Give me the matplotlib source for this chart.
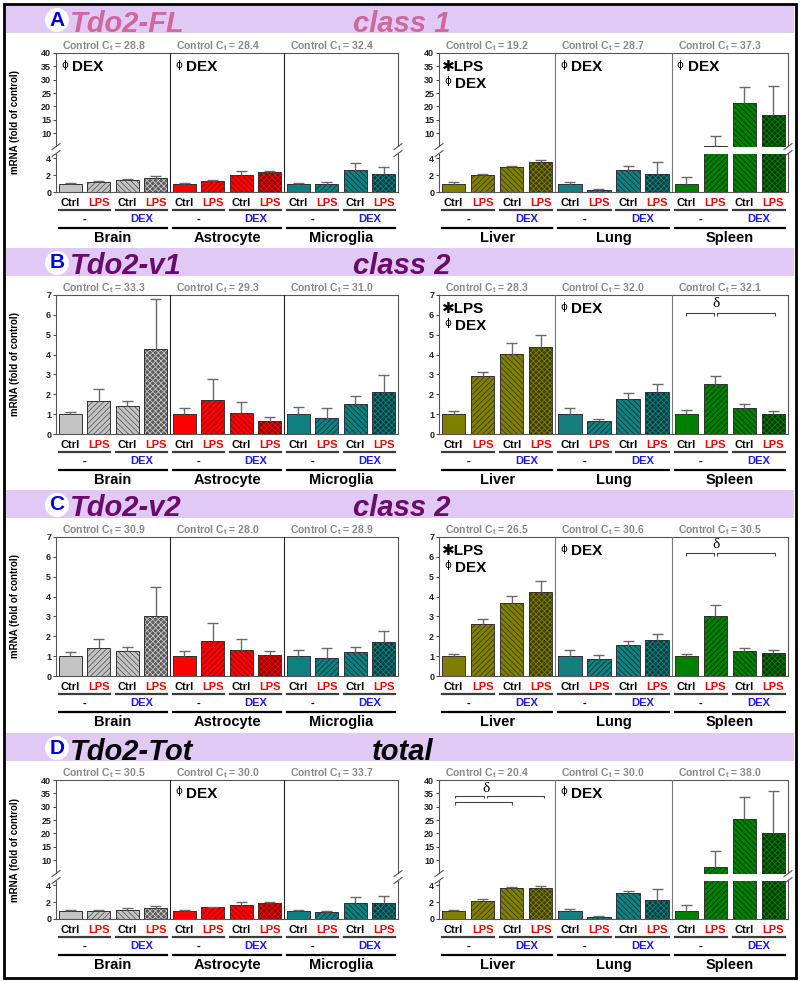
import numpy as np
import matplotlib
matplotlib.use("Agg")
import matplotlib.pyplot as plt
from matplotlib import transforms, font_manager
from matplotlib.lines import Line2D
from matplotlib.patches import Rectangle

W, H = 800, 981

# ---- values ----
treatments = ["Ctrl", "LPS", "Ctrl", "LPS"]
dex_labels = ["-", "DEX"]
left_organs = ["Brain", "Astrocyte", "Microglia"]
right_organs = ["Liver", "Lung", "Spleen"]

panel_letters = ["A", "B", "C", "D"]
panel_genes = ["Tdo2-FL", "Tdo2-v1", "Tdo2-v2", "Tdo2-Tot"]
panel_classes = ["class 1", "class 2", "class 2", "total"]

# Tdo2-FL (broken axis)
fl_left_mean = [1.0, 1.15, 1.4, 1.7, 1.0, 1.35, 2.05, 2.35, 1.0, 0.9, 2.6, 2.1]
fl_left_top = [1.1, 1.3, 1.55, 1.9, 1.1, 1.45, 2.5, 2.5, 1.05, 1.15, 3.4, 2.95]
fl_right_mean = [1.0, 2.0, 2.95, 3.5, 1.0, 0.25, 2.55, 2.15, 1.0, 5.3, 21.3, 16.7]
fl_right_top = [1.15, 2.1, 3.05, 3.85, 1.2, 0.3, 3.05, 3.55, 1.8, 8.9, 27.2, 27.8]
fl_ct_left = [28.8, 28.4, 32.4]
fl_ct_right = [19.2, 28.7, 37.3]

# Tdo2-v1
v1_left_mean = [1.0, 1.68, 1.39, 4.28, 1.0, 1.71, 1.06, 0.67, 1.0, 0.8, 1.51, 2.1]
v1_left_top = [1.12, 2.25, 1.68, 6.8, 1.33, 2.77, 1.61, 0.87, 1.34, 1.33, 1.91, 2.95]
v1_right_mean = [1.0, 2.92, 4.04, 4.36, 1.0, 0.64, 1.74, 2.11, 1.0, 2.5, 1.29, 1.02]
v1_right_top = [1.16, 3.14, 4.56, 4.97, 1.33, 0.74, 2.06, 2.52, 1.19, 2.92, 1.51, 1.16]
v1_ct_left = [33.3, 29.3, 31.0]
v1_ct_right = [28.3, 32.0, 32.1]

# Tdo2-v2
v2_left_mean = [1.0, 1.42, 1.26, 3.03, 1.0, 1.75, 1.3, 1.04, 1.0, 0.93, 1.23, 1.7]
v2_left_top = [1.2, 1.85, 1.44, 4.48, 1.26, 2.69, 1.85, 1.28, 1.31, 1.43, 1.46, 2.29]
v2_right_mean = [1.0, 2.63, 3.67, 4.23, 1.0, 0.84, 1.55, 1.8, 1.0, 3.03, 1.28, 1.16]
v2_right_top = [1.11, 2.86, 4.02, 4.76, 1.33, 1.06, 1.77, 2.1, 1.09, 3.6, 1.43, 1.31]
v2_ct_left = [30.9, 28.0, 28.9]
v2_ct_right = [26.5, 30.6, 30.5]

# Tdo2-Tot (broken axis)
tot_left_mean = [1.0, 1.0, 1.12, 1.36, 1.0, 1.4, 1.6, 1.9, 1.0, 0.82, 1.93, 1.93]
tot_left_top = [1.1, 1.08, 1.3, 1.55, 1.05, 1.48, 2.0, 2.05, 1.05, 0.96, 2.6, 2.72]
tot_right_mean = [1.0, 2.15, 3.64, 3.7, 1.0, 0.25, 3.08, 2.3, 1.0, 7.4, 25.6, 20.1]
tot_right_top = [1.05, 2.35, 3.8, 3.95, 1.15, 0.3, 3.35, 3.6, 1.65, 13.6, 33.75, 35.9]
tot_ct_left = [30.5, 30.0, 33.7]
tot_ct_right = [20.4, 30.0, 38.0]

organ_colors = {
    "Brain": ("#c4c4c4", "#5c5c5c"),
    "Astrocyte": ("#ff0000", "#8c0000"),
    "Microglia": ("#0f8080", "#033f3f"),
    "Liver": ("#808000", "#3f3f00"),
    "Lung": ("#157f80", "#043f40"),
    "Spleen": ("#008000", "#003c00"),
}
gene_colors = ["#d0679f", "#6b0a6b", "#6b0a6b", "#000000"]

# stat labels: (panel, side, section) -> lines
stat_marks = {
    (0, 0, 0): [("phi", "DEX")], (0, 0, 1): [("phi", "DEX")],
    (0, 1, 0): [("*", "LPS"), ("phi", "DEX")], (0, 1, 1): [("phi", "DEX")],
    (0, 1, 2): [("phi", "DEX")],
    (1, 1, 0): [("*", "LPS"), ("phi", "DEX")], (1, 1, 1): [("phi", "DEX")],
    (2, 1, 0): [("*", "LPS"), ("phi", "DEX")], (2, 1, 1): [("phi", "DEX")],
    (3, 0, 1): [("phi", "DEX")], (3, 1, 1): [("phi", "DEX")],
}

plt.rcParams["font.family"] = ["Liberation Sans", "DejaVu Sans"]
plt.rcParams["font.weight"] = "bold"
plt.rcParams["hatch.linewidth"] = 0.6
plt.rcParams["mathtext.fontset"] = "custom"
plt.rcParams["mathtext.rm"] = "Liberation Sans"
plt.rcParams["mathtext.bf"] = "Liberation Sans:bold"
plt.rcParams["mathtext.it"] = "Liberation Sans:italic"
plt.rcParams["mathtext.default"] = "regular"


def has_font(name):
    try:
        font_manager.findfont(name, fallback_to_default=False)
        return True
    except ValueError:
        return False


NARROW = "Liberation Sans Narrow" if has_font("Liberation Sans Narrow") else "Liberation Sans"

fig = plt.figure(figsize=(W / 100, H / 100), dpi=100)
px = transforms.Affine2D().scale(1 / W, -1 / H).translate(0, 1) + fig.transFigure

ROW_TOP = [53, 295, 537, 780]
AX_H = 139
AX_X = [(56, 342), (439, 349)]
BAND_TOP = [5, 248, 490, 733]

# broken axis mapping (value -> pixels above the bottom)
BRK_V = [-10, 0, 4.55, 5.0, 40, 80]
BRK_P = [-84.5, 0, 38.4, 45.4, 139, 245.8]


def fwd(v):
    return np.interp(v, BRK_V, BRK_P)


def inv(p):
    return np.interp(p, BRK_P, BRK_V)


def ctext(x, y, s, size, family=None, **kw):
    # y is the visual centre of capitals
    kw.setdefault("ha", "left")
    if family is not None:
        kw["family"] = family
    return fig.text(x, y + 0.716 * size * 100 / 72 / 2, s, transform=px,
                    size=size, va="baseline", **kw)


def draw_bars(ax, organs, means, tops):
    x = np.arange(12) + 0.5
    for k, organ in enumerate(organs):
        base, dark = organ_colors[organ]
        styles = [(base, None, base), (base, "//////", dark),
                  (base, "\\\\\\\\\\\\", dark), (dark, "xxxxxx", base)]
        for j, (fc, hatch, hc) in enumerate(styles):
            i = 4 * k + j
            ax.bar(x[i], means[i], width=0.8, color=fc, hatch=hatch,
                   edgecolor=hc, linewidth=0, zorder=2)
            ax.bar(x[i], means[i], width=0.8, fill=False,
                   edgecolor="#333333", linewidth=0.7, zorder=2.1)
    ax.vlines(x, means, tops, color="#6a6a6a", lw=1.0, zorder=2.5)
    ax.hlines(tops, x - 0.19, x + 0.19, color="#6a6a6a", lw=1.0, zorder=2.5)


def bracket(ax, x0, x1, y, tick):
    ax.plot([x0, x0, x1, x1], [y - tick, y, y, y - tick], color="#444444",
            lw=0.8, zorder=5, solid_capstyle="butt")


for p in range(4):
    top = ROW_TOP[p]
    bottom = top + AX_H
    broken = p in (0, 3)
    narrow = p == 3

    # header band
    bt = BAND_TOP[p]
    fig.add_artist(Rectangle((6, bt), 788, 28, transform=px, fc="#e1c9f6",
                             ec="none", zorder=0))
    fig.text(57, bt + 15, panel_letters[p], transform=px, size=15,
             color="#0000dd", ha="center", va="center",
             bbox=dict(boxstyle="circle,pad=0.12", fc="white", ec="none"))
    hfam = [NARROW, "Liberation Sans"] if narrow else None
    hkw = dict(style="italic", weight="bold", size=21, color=gene_colors[p],
               transform=px, va="baseline")
    if hfam:
        hkw["family"] = hfam
    fig.text(70, bt + 26.5, panel_genes[p], **hkw)
    fig.text(372 if narrow else 353, bt + 26.5, panel_classes[p], **hkw)

    sides = [
        (left_organs, [fl_left_mean, v1_left_mean, v2_left_mean, tot_left_mean][p],
         [fl_left_top, v1_left_top, v2_left_top, tot_left_top][p],
         [fl_ct_left, v1_ct_left, v2_ct_left, tot_ct_left][p]),
        (right_organs, [fl_right_mean, v1_right_mean, v2_right_mean, tot_right_mean][p],
         [fl_right_top, v1_right_top, v2_right_top, tot_right_top][p],
         [fl_ct_right, v1_ct_right, v2_ct_right, tot_ct_right][p]),
    ]

    for s, (organs, means, tops, cts) in enumerate(sides):
        x0, w = AX_X[s]
        ax = fig.add_axes([x0 / W, 1 - bottom / H, w / W, AX_H / H])
        ax.set_facecolor("none")
        ax.set_xlim(0, 12)
        if broken:
            ax.set_yscale("function", functions=(fwd, inv))
            ax.set_ylim(0, 40)
            ax.set_yticks([0, 2, 4, 10, 15, 20, 25, 30, 35, 40])
            ax.axhspan(4.55, 5.0, color="white", lw=0, zorder=3)
        else:
            ax.set_ylim(0, 7)
            ax.set_yticks(range(8))
        ax.set_xticks([])
        ax.tick_params(axis="y", labelsize=6.5, length=2, width=0.6,
                       pad=1.5, colors="#222222")
        for sp in ax.spines.values():
            sp.set_color("#555555")
            sp.set_linewidth(0.8)
        div_color = "#222222" if s == 0 else "#777777"
        for xv in (4, 8):
            ax.axvline(xv, color=div_color, lw=0.8, zorder=4)

        draw_bars(ax, organs, means, tops)

        unit = w / 12.0
        for k, organ in enumerate(organs):
            sec = x0 + 4 * k * unit
            cfam = [NARROW, "Liberation Sans"] if narrow else None
            ctext(sec + 6, top - 8, f"Control C$_t$ = {cts[k]:.1f}", 7.5,
                  family=cfam, color="#888888")
            for line, (sym, word) in enumerate(stat_marks.get((p, s, k), [])):
                yc = top + 13 + 17 * line
                if sym == "*":
                    # heavy asterisk comes from DejaVu Sans through the family list
                    ctext(sec + 3, yc, "\u2731" + word, 11, color="black")
                else:
                    fig.text(sec + 5, yc - 6.5, "\u03d5", transform=px, size=7.5,
                             family=["DejaVu Sans"], weight="normal",
                             ha="left", va="top", color="black")
                    ctext(sec + 16, yc, word, 11, color="black")

            # labels under the bars
            for j in range(4):
                cx = x0 + (4 * k + j + 0.5) * unit
                ctext(cx, bottom + 10, treatments[j], 8, ha="center",
                      color="black" if j % 2 == 0 else "#ff0000")
            for g in range(2):
                a = x0 + (4 * k + 2 * g + 0.1) * unit
                b = x0 + (4 * k + 2 * g + 1.9) * unit
                fig.add_artist(Line2D([a, b], [bottom + 18, bottom + 18],
                                      transform=px, color="#3c3c3c", lw=1.6))
                ctext((a + b) / 2, bottom + 26.5, dex_labels[g], 8, ha="center",
                      color="black" if g == 0 else "#1a1ae6")
            a = x0 + (4 * k + 0.1) * unit
            b = x0 + (4 * k + 3.9) * unit
            fig.add_artist(Line2D([a, b], [bottom + 36, bottom + 36],
                                  transform=px, color="black", lw=1.6))
            ctext((a + b) / 2, bottom + 44.5, organ, 10.5, ha="center",
                  color="black")

        if broken:
            for xs in (x0, x0 + w):
                fig.add_artist(Rectangle((xs - 2.5, bottom - 45), 5, 6.2,
                                         transform=px, fc="white", ec="none",
                                         zorder=3))
                for yb in (bottom - 38.4, bottom - 45.4):
                    fig.add_artist(Line2D([xs - 4, xs + 4], [yb + 3, yb - 3],
                                          transform=px, color="#555555",
                                          lw=0.8, zorder=4))

        if s == 0:
            fig.text(15, top + AX_H / 2, "mRNA (fold of control)", transform=px,
                     rotation=90, size=7, ha="center", va="center")

        # delta brackets
        if p in (1, 2) and s == 1:
            yb = 6.1 if p == 1 else 6.2
            bracket(ax, 8.5, 9.47, yb, 0.14)
            bracket(ax, 9.57, 11.55, yb, 0.14)
            ax.text(9.52, yb + 0.12, "\u03b4", family=["Liberation Serif"],
                    weight="normal", size=11, ha="center", va="bottom", zorder=5)
        if p == 3 and s == 1:
            bracket(ax, 0.54, 1.56, 34.0, 0.9)
            bracket(ax, 1.64, 3.6, 34.0, 0.9)
            bracket(ax, 0.54, 2.5, 31.6, 1.0)
            ax.text(1.6, 34.3, "\u03b4", family=["Liberation Serif"],
                    weight="normal", size=11, ha="center", va="bottom", zorder=5)

fig.add_artist(Rectangle((4, 4), 792, 974, transform=px, fc="none",
                         ec="black", lw=2, zorder=10))

fig.savefig("out.png", dpi=100)
